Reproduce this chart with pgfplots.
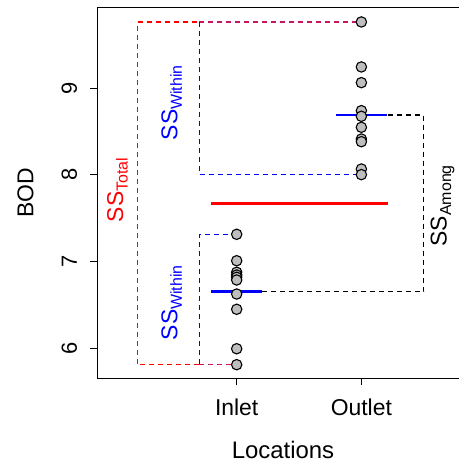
\documentclass[border=0pt]{standalone}
\usepackage{fontspec}
\setmainfont{Liberation Sans}
\usepackage{pgfplots}
\pgfplotsset{compat=1.18}
\definecolor{ptgray}{RGB}{190,190,190}
\definecolor{purp}{RGB}{200,20,100}
\newcommand\SSsub[1]{{\fontsize{23}{27}\selectfont SS\raisebox{-4.5bp}{\fontsize{16}{18}\selectfont #1}}}
\begin{document}
\begin{tikzpicture}
\begin{axis}[
  scale only axis, width=361.7bp, height=371bp,
  at={(0,0)}, anchor=south west,
  xmin=-0.118, xmax=2.783, ymin=5.654, ymax=9.933,
  axis x line*=box, axis y line*=left,
  axis line style={line width=1.1bp, black},
  xtick={1,2}, xticklabels={Inlet,Outlet},
  ytick={6,7,8,9},
  xtick pos=left, ytick pos=left,
  tick align=outside, major tick length=7bp,
  tick style={line width=1bp, black},
  minor tick num=0,
  /pgf/number format/assume math mode=true,
  tick label style={font=\fontsize{22}{26}\selectfont},
  xticklabel style={anchor=base, font=\fontsize{23}{27}\selectfont}, xticklabel shift=30.5bp,
  yticklabel style={rotate=90, anchor=base}, yticklabel shift=13.5bp,
  xlabel={Locations}, ylabel={BOD},
  every axis x label/.style={at={(axis description cs:0.5134,-0.2156)}, anchor=base, font=\fontsize{24}{28}\selectfont},
  every axis y label/.style={at={(axis description cs:-0.177,0.5)}, rotate=90, anchor=base, font=\fontsize{23}{27}\selectfont},
  clip=false,
]
% points
\addplot[only marks, mark=*, mark size=5.2bp, mark options={fill=ptgray, draw=black, line width=1.1bp}] coordinates {
 (1,7.315) (1,7.010) (1,6.877) (1,6.845) (1,6.819) (1,6.788) (1,6.626) (1,6.450) (1,5.995) (1,5.811)
 (2,9.764) (2,9.245) (2,9.064) (2,8.741) (2,8.676) (2,8.549) (2,8.414) (2,8.383) (2,8.068) (2,8.003)
};
% SS total (red dashed)
\addplot[red, line width=1.2bp, dash pattern=on 5bp off 4bp] coordinates {(0.70,5.811) (0.203,5.811) (0.203,9.764) (0.70,9.764)};
\addplot[purp, line width=1.2bp, dash pattern=on 5bp off 4bp] coordinates {(0.70,9.764) (2,9.764)};
\addplot[purp, line width=1.2bp, dash pattern=on 5bp off 4bp] coordinates {(0.70,5.811) (1,5.811)};
% SS within (blue dashed)
\addplot[blue, line width=1.2bp, dash pattern=on 5bp off 4bp] coordinates {(0.70,9.764) (0.70,8.003) (2,8.003)};
\addplot[blue, line width=1.2bp, dash pattern=on 5bp off 4bp] coordinates {(1,7.315) (0.70,7.315) (0.70,5.811)};
% SS among (black dashed)
\addplot[black, line width=1.2bp, dash pattern=on 5bp off 4bp] coordinates {(2,8.691) (2.5,8.691) (2.5,6.654) (1,6.654)};
% means
\addplot[blue, line width=2.8bp] coordinates {(0.795,6.654) (1.205,6.654)};
\addplot[blue, line width=2.8bp] coordinates {(1.795,8.691) (2.205,8.691)};
\addplot[red, line width=3bp] coordinates {(0.79,7.672) (2.21,7.672)};
% labels
\node[rotate=90, red, anchor=center] at (axis cs:0.044,7.826) {\SSsub{Total}};
\node[rotate=90, blue, anchor=center] at (axis cs:0.479,8.832) {\SSsub{Within}};
\node[rotate=90, blue, anchor=center] at (axis cs:0.479,6.525) {\SSsub{Within}};
\node[rotate=90, black, anchor=center] at (axis cs:2.651,7.644) {\SSsub{Among}};
\end{axis}
\pgfresetboundingbox
\path[use as bounding box] (-97.3bp,-86.7bp) rectangle (361.7bp,378.3bp);
\end{tikzpicture}
\end{document}
